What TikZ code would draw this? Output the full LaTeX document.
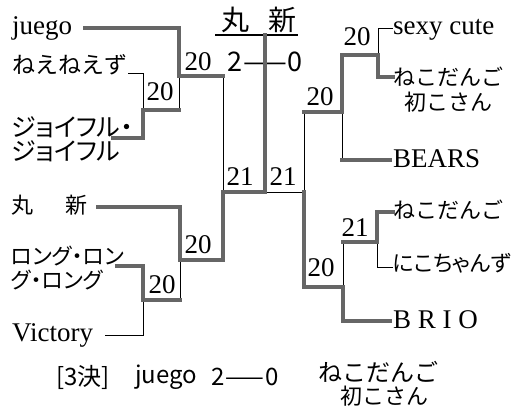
\documentclass[tikz,border=0pt]{standalone}
\usepackage{fontspec}
\setmainfont{Liberation Serif}
\newfontfamily\jp{Noto Sans CJK JP}
\newfontfamily\jpp[RawFeature=+palt]{Noto Sans CJK JP}
\newcommand{\longdash}{\scalebox{1.9}[1]{—}}
\begin{document}
\begin{tikzpicture}[x=1pt,y=-1pt,
  win/.style={line width=3.5pt, draw=black!60, line cap=rect, line join=miter},
  lose/.style={line width=0.9pt, draw=black},
  lat/.style={font=\fontsize{27}{30}\selectfont, inner sep=0pt},
  jpn/.style={font=\jp\fontsize{22}{25}\selectfont, inner sep=0pt},
  jpp/.style={font=\jpp\fontsize{22}{24}\selectfont, inner sep=0pt},
  score/.style={font=\fontsize{27}{28}\selectfont, inner sep=0pt},
  gothic/.style={font=\jp\fontsize{24}{26}\selectfont, inner sep=0pt}]
\useasboundingbox[fill=white] (0,0) rectangle (528,408);
% ---------- texts ----------
\node[lat, anchor=base west] (juego) at (12,34) {juego};
\node[jpn, font=\jp\fontsize{23}{25}\selectfont, anchor=west] (nene) at (12,65) {ねえねえず};
\node[jpp, font=\jpp\fontsize{25}{24}\selectfont, anchor=west, align=left] (joy) at (11,139) {ジョイフル・\\ジョイフル};
\node[jpn, anchor=west] (maru) at (11,205) {丸\hspace{32pt}新};
\node[jpp, anchor=west, align=left] (long) at (11,268) {ロング・ロン\\グ・ロング};
\node[lat, anchor=base west] (vic) at (12,341) {Victory};
\node[lat, anchor=base west] (sexy) at (393,34) {sexy cute};
\node[jpn, anchor=west, align=center] (nh) at (393,90) {ねこだんご\\初こさん};
\node[lat, anchor=base west] (bears) at (393,167) {BEARS};
\node[jpn, anchor=west] (nd) at (393,210) {ねこだんご};
\node[jpp, anchor=west] (niko) at (393,263) {にこちゃんず};
\node[lat, anchor=base west] (brio) at (393,328) {B R I O};
\node[font=\jp\fontsize{28}{30}\selectfont, inner sep=0pt] (champ) at (259,20) {丸\hspace{20pt}新};
\node[font=\jp\fontsize{27}{28}\selectfont, inner sep=0pt] (fs) at (265,62) {2\longdash0};
% scores
\node[score] (s1) at (198,62) {20};
\node[score] (s2) at (160,92) {20};
\node[score] (s3) at (198,245) {20};
\node[score] (s4) at (162,285) {20};
\node[score] (s5) at (240,177) {21};
\node[score] (s6) at (283,177) {21};
\node[score] (s7) at (357,37) {20};
\node[score] (s8) at (320,97) {20};
\node[score] (s9) at (355,228) {21};
\node[score] (s10) at (321,268) {20};
% third place
\node[gothic, anchor=west] (t3) at (56,377) {[3決]};
\node[gothic, anchor=west] (tj) at (135,377) {juego};
\node[gothic, anchor=west] (ts) at (211,377) {2\longdash0};
\node[gothic, anchor=west] (tn) at (318,372) {ねこだんご};
\node[gothic, font=\jp\fontsize{22}{24}\selectfont, anchor=west] (tn2) at (340,396) {初こさん};
% ---------- coordinates ----------
\coordinate (ul0) at (215,35); \coordinate (ul1) at (298,35);
\coordinate (jg0) at (85,28); \coordinate (jg1) at (179,28);
\coordinate (qa) at (179,76); \coordinate (qaR) at (223,76);
\coordinate (ne0) at (128,73); \coordinate (ne1) at (143,73);
\coordinate (ra) at (143,110); \coordinate (raR) at (179,110);
\coordinate (jo0) at (113,138); \coordinate (jo1) at (143,138);
\coordinate (sf) at (223,192); \coordinate (fin) at (265,192); \coordinate (top) at (265,35);
\coordinate (mr0) at (98,207); \coordinate (mr1) at (180,207);
\coordinate (qb) at (180,260); \coordinate (qbR) at (223,260);
\coordinate (lo0) at (117,266); \coordinate (lo1) at (143,266);
\coordinate (rb) at (143,300); \coordinate (rbR) at (180,300);
\coordinate (vi0) at (105,335); \coordinate (vi1) at (143,335);
\coordinate (sx0) at (393,28); \coordinate (sx1) at (378,28);
\coordinate (rc) at (378,55); \coordinate (rcL) at (342,55);
\coordinate (nh0) at (393,77); \coordinate (nh1) at (378,77);
\coordinate (rd) at (342,112); \coordinate (rdL) at (304,112);
\coordinate (be0) at (390,160); \coordinate (be1) at (342,160);
\coordinate (re) at (304,192);
\coordinate (nd0) at (393,212); \coordinate (nd1) at (377,212);
\coordinate (rf) at (377,242); \coordinate (rfL) at (343,242);
\coordinate (ni0) at (393,267); \coordinate (ni1) at (377,267);
\coordinate (rg) at (343,287); \coordinate (rgL) at (304,287);
\coordinate (br0) at (390,321); \coordinate (br1) at (343,321);
% ---------- losers ----------
\draw[lose] (ne0) -- (ne1) -- (ra);
\draw[lose] (vi0) -- (vi1) -- (rb);
\draw[lose] (raR) -- (qa);
\draw[lose] (rbR) -- (qb);
\draw[lose] (qaR) -- (sf);
\draw[lose] (sx0) -- (sx1) -- (rc);
\draw[lose] (be1) -- (rd);
\draw[lose] (rdL) -- (re) -- (fin);
\draw[lose] (ni0) -- (ni1) -- (rf);
\draw[lose] (rfL) -- (rg);
\draw[line width=1.6pt] (ul0) -- (ul1);
% ---------- winners ----------
\draw[win] (jg0) -- (jg1) -- (qa) -- (qaR);
\draw[win] (jo0) -- (jo1) -- (ra) -- (raR);
\draw[win] (lo0) -- (lo1) -- (rb) -- (rbR);
\draw[win] (mr0) -- (mr1) -- (qb) -- (qbR) -- (sf) -- (fin) -- (top);
\draw[win] (nh0) -- (nh1) -- (rc) -- (rcL) -- (rd) -- (rdL);
\draw[win] (be0) -- (be1);
\draw[win] (nd0) -- (nd1) -- (rf) -- (rfL);
\draw[win] (br0) -- (br1) -- (rg) -- (rgL) -- (re);
\end{tikzpicture}
\end{document}
